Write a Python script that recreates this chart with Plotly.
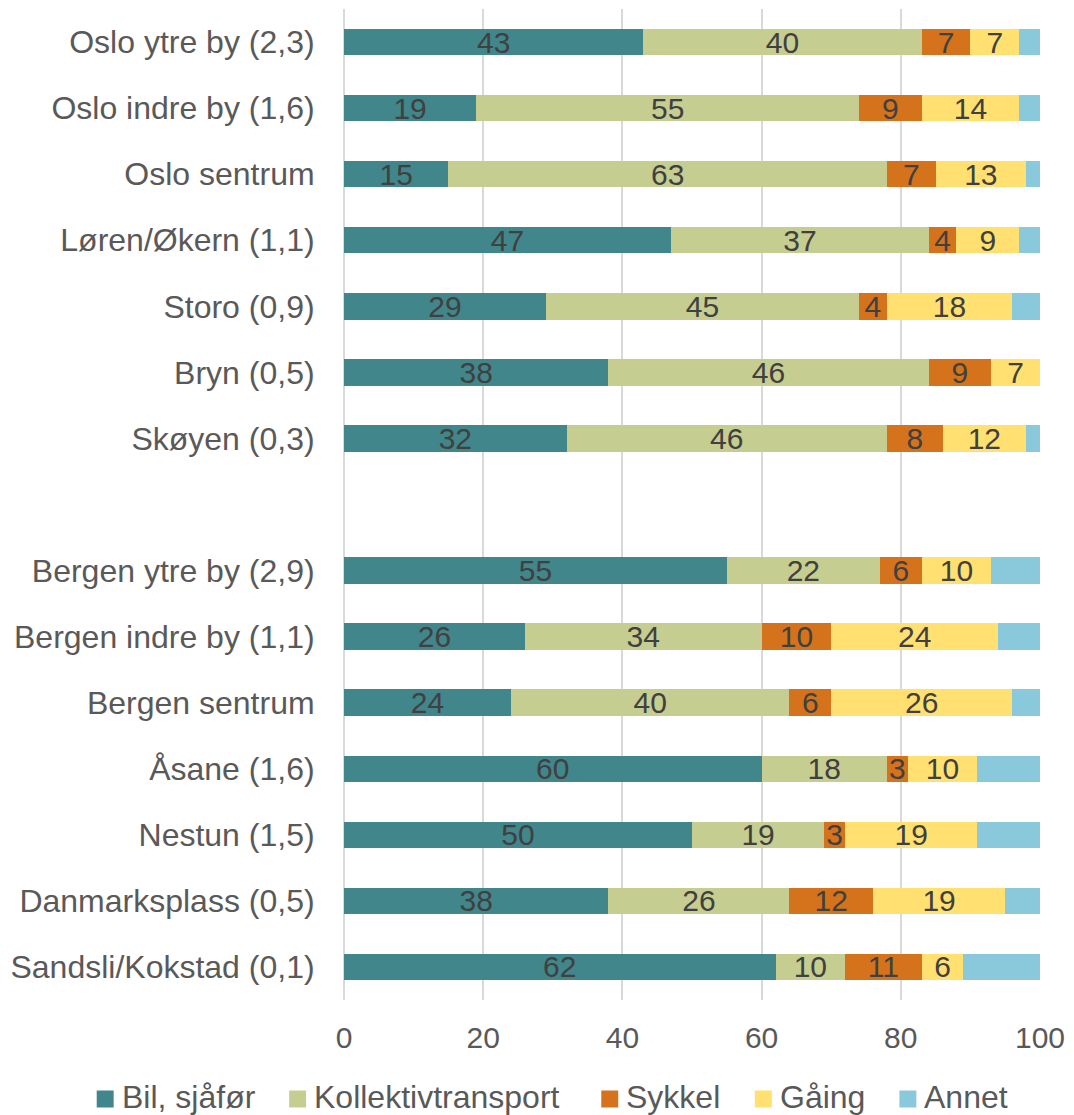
import plotly.graph_objects as go

# Travel mode shares (%) by area; the blank row separates Oslo from Bergen
areas = [
    "Oslo ytre by (2,3)", "Oslo indre by (1,6)", "Oslo sentrum", "Løren/Økern (1,1)",
    "Storo (0,9)", "Bryn (0,5)", "Skøyen (0,3)", " ",
    "Bergen ytre by (2,9)", "Bergen indre by (1,1)", "Bergen sentrum", "Åsane (1,6)",
    "Nestun (1,5)", "Danmarksplass (0,5)", "Sandsli/Kokstad (0,1)",
]
bil = [43, 19, 15, 47, 29, 38, 32, None, 55, 26, 24, 60, 50, 38, 62]
kollektiv = [40, 55, 63, 37, 45, 46, 46, None, 22, 34, 40, 18, 19, 26, 10]
sykkel = [7, 9, 7, 4, 4, 9, 8, None, 6, 10, 6, 3, 3, 12, 11]
gaaing = [7, 14, 13, 9, 18, 7, 12, None, 10, 24, 26, 10, 19, 19, 6]
annet = [3, 3, 2, 3, 4, 1, 2, None, 7, 6, 4, 9, 9, 5, 11]

series = [
    ("Bil, sjåfør", bil, "#40868A", True),
    ("Kollektivtransport", kollektiv, "#C6CD91", True),
    ("Sykkel", sykkel, "#D4731C", True),
    ("Gåing", gaaing, "#FFE070", True),
    ("Annet", annet, "#8AC9DB", False),
]

FONT = "Liberation Sans, Arial, sans-serif"
W, H = 1074, 1115
M_L, M_R, M_T, M_B = 344, 32, 9, 115
PW, PH = W - M_L - M_R, H - M_T - M_B


def px_to_paper(x, y):
    return (x - M_L) / PW, (H - M_B - y) / PH


fig = go.Figure()
for name, vals, color, labelled in series:
    fig.add_trace(go.Bar(
        y=areas, x=vals, name=name, orientation="h",
        marker=dict(color=color, line=dict(width=0)),
        text=[("" if v is None else str(v)) for v in vals] if labelled else None,
        textposition="inside" if labelled else "none",
        insidetextanchor="middle",
        textangle=0,
        constraintext="none",
        textfont=dict(family=FONT, size=30, color="#404040"),
        hoverinfo="x+name",
        showlegend=False,
    ))

# Legend row below the axis: colour square followed by the series name
legend_left = [96, 289, 602, 756, 901]
sq = 17
legend_cy = 1099
for (name, _, color, _), lx in zip(series, legend_left):
    x0, y0 = px_to_paper(lx, legend_cy - sq / 2)
    x1, y1 = px_to_paper(lx + sq, legend_cy + sq / 2)
    fig.add_shape(type="rect", xref="paper", yref="paper",
                  x0=x0, x1=x1, y0=y1, y1=y0,
                  fillcolor=color, line=dict(width=0))
    tx, ty = px_to_paper(lx + sq + 6, legend_cy - 2)
    fig.add_annotation(xref="paper", yref="paper", x=tx, y=ty,
                       xanchor="left", yanchor="middle", showarrow=False,
                       text=name, font=dict(family=FONT, size=32, color="#595959"))

fig.update_layout(
    barmode="stack",
    bargap=0.6,
    width=W, height=H,
    margin=dict(l=M_L, r=M_R, t=M_T, b=M_B),
    plot_bgcolor="white", paper_bgcolor="white",
    font=dict(family=FONT, size=30, color="#595959"),
    showlegend=False,
    uniformtext=dict(mode=False),
)
fig.update_xaxes(
    range=[0, 100], tickvals=[0, 20, 40, 60, 80, 100],
    showgrid=True, gridcolor="#D9D9D9", gridwidth=2,
    zeroline=True, zerolinecolor="#D9D9D9", zerolinewidth=2,
    showline=False, ticks="", ticklabelstandoff=17,
    tickfont=dict(family=FONT, size=30, color="#595959"),
    fixedrange=True,
)
fig.update_yaxes(
    categoryorder="array", categoryarray=areas, autorange="reversed",
    showgrid=False, ticks="outside", ticklen=22, tickcolor="rgba(0,0,0,0)",
    tickfont=dict(family=FONT, size=32, color="#595959"),
    fixedrange=True,
)

fig.write_html("out.html")
